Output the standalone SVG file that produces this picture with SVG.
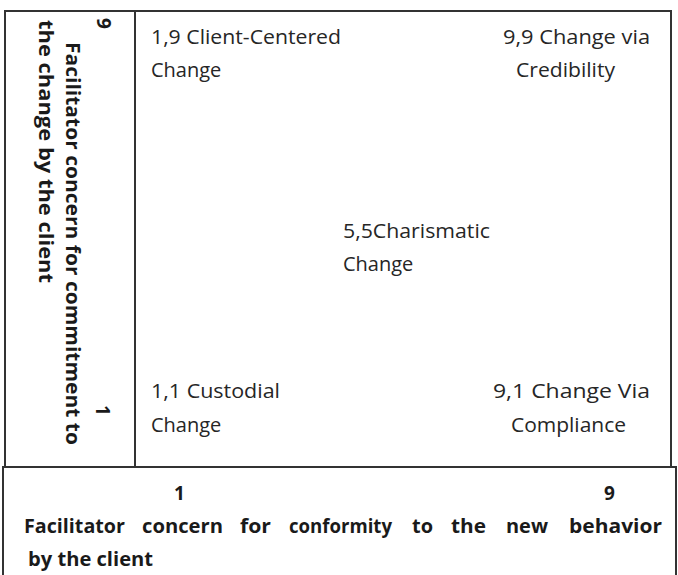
<svg xmlns="http://www.w3.org/2000/svg" width="678" height="575" viewBox="0 0 678 575">
  <style>
    .frame { fill: none; stroke: #333; stroke-width: 2; }
    .q { font-family: "Open Sans", "Noto Sans", sans-serif; font-size: 20px; fill: #262626; }
    .b { font-family: "Open Sans", "Noto Sans", sans-serif; font-size: 19px; font-weight: bold; fill: #1a1a1a; }
  </style>
  <rect width="678" height="575" fill="#fff"/>

  <!-- grid frame -->
  <g id="frame">
    <rect class="frame" x="5" y="11" width="666" height="456"/>
    <line class="frame" x1="135" y1="11" x2="135" y2="467"/>
    <path class="frame" d="M3 575 V467 H676 V575"/>
  </g>

  <!-- vertical axis label -->
  <g id="y-axis">
    <text class="b" transform="translate(97,18) rotate(90)">9</text>
    <text class="b" transform="translate(96,405) rotate(90)">1</text>
    <text class="b" transform="translate(66,42) rotate(90)" textLength="403" lengthAdjust="spacingAndGlyphs">Facilitator concern for commitment  to</text>
    <text class="b" transform="translate(39,20) rotate(90)" textLength="263" lengthAdjust="spacingAndGlyphs">the change by the client</text>
  </g>

  <!-- quadrant labels -->
  <g id="q19">
    <text class="q" x="151" y="44" textLength="190" lengthAdjust="spacingAndGlyphs">1,9 Client-Centered</text>
    <text class="q" x="151" y="77">Change</text>
  </g>
  <g id="q99">
    <text class="q" x="503" y="44" textLength="147" lengthAdjust="spacingAndGlyphs">9,9  Change via</text>
    <text class="q" x="516" y="77" textLength="99" lengthAdjust="spacingAndGlyphs">Credibility</text>
  </g>
  <g id="q55">
    <text class="q" x="343" y="238" textLength="147" lengthAdjust="spacingAndGlyphs">5,5Charismatic</text>
    <text class="q" x="343" y="271">Change</text>
  </g>
  <g id="q11">
    <text class="q" x="151" y="398" textLength="129" lengthAdjust="spacingAndGlyphs">1,1 Custodial</text>
    <text class="q" x="151" y="432">Change</text>
  </g>
  <g id="q91">
    <text class="q" x="493" y="398" textLength="157" lengthAdjust="spacingAndGlyphs">9,1  Change Via</text>
    <text class="q" x="511" y="432" textLength="115" lengthAdjust="spacingAndGlyphs">Compliance</text>
  </g>

  <!-- horizontal axis label -->
  <g id="x-axis">
    <text class="b" x="174" y="500">1</text>
    <text class="b" x="604" y="500">9</text>
    <text class="b" y="533">
      <tspan x="24" textLength="101" lengthAdjust="spacingAndGlyphs">Facilitator</tspan>
      <tspan x="142" textLength="81" lengthAdjust="spacingAndGlyphs">concern</tspan>
      <tspan x="240" textLength="31" lengthAdjust="spacingAndGlyphs">for</tspan>
      <tspan x="289" textLength="103" lengthAdjust="spacingAndGlyphs">conformity</tspan>
      <tspan x="412" textLength="21" lengthAdjust="spacingAndGlyphs">to</tspan>
      <tspan x="451" textLength="35" lengthAdjust="spacingAndGlyphs">the</tspan>
      <tspan x="506" textLength="42" lengthAdjust="spacingAndGlyphs">new</tspan>
      <tspan x="569" textLength="93" lengthAdjust="spacingAndGlyphs">behavior</tspan>
    </text>
    <text class="b" x="28" y="566" textLength="125" lengthAdjust="spacingAndGlyphs">by the client</text>
  </g>
</svg>
